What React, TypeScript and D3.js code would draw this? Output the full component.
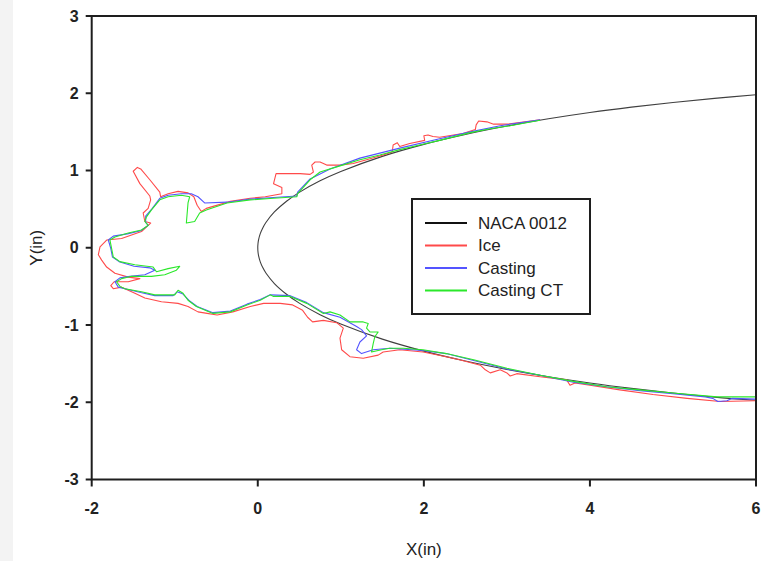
import React from "react";
import * as d3 from "d3";

// NACA 0012 outline (x in inches, upper / lower surface y)
const nacaX = [0, 0.003, 0.01, 0.03, 0.06, 0.1, 0.2, 0.35, 0.5, 0.75, 1, 1.5, 2, 2.5, 3, 3.5, 4, 4.5, 5, 5.5, 6];
const nacaUpperY = [0, 0.059, 0.106, 0.183, 0.257, 0.33, 0.463, 0.605, 0.717, 0.866, 0.987, 1.183, 1.338, 1.466, 1.575, 1.669, 1.75, 1.82, 1.881, 1.934, 1.98];
const nacaLowerY = [0, -0.059, -0.106, -0.183, -0.257, -0.33, -0.463, -0.605, -0.717, -0.866, -0.987, -1.183, -1.338, -1.466, -1.575, -1.669, -1.75, -1.82, -1.881, -1.934, -1.975];

// Ice tracing
const iceX = [3.4, 3.0, 2.84, 2.76, 2.66, 2.63, 2.62, 2.47, 2.19, 2.11, 2.05, 2.0, 2.01, 1.83, 1.71, 1.68, 1.63, 1.62, 1.51, 1.31, 1.15, 0.99, 0.83, 0.75, 0.69, 0.65, 0.67, 0.63, 0.51, 0.39, 0.22, 0.19, 0.29, 0.29, 0.09, -0.09, -0.33, -0.62, -0.68, -0.73, -0.77, -0.84, -0.96, -1.08, -1.17, -1.18, -1.3, -1.41, -1.45, -1.5, -1.42, -1.3, -1.29, -1.32, -1.38, -1.36, -1.29, -1.4, -1.64, -1.82, -1.9, -1.92, -1.88, -1.82, -1.72, -1.56, -1.42, -1.56, -1.73, -1.77, -1.74, -1.64, -1.48, -1.36, -1.16, -0.96, -0.84, -0.72, -0.61, -0.49, -0.3, -0.09, 0.07, 0.27, 0.42, 0.54, 0.6, 0.66, 0.79, 0.95, 1.03, 0.99, 1.01, 1.11, 1.27, 1.45, 1.51, 1.71, 1.99, 2.27, 2.43, 2.68, 2.74, 2.8, 2.92, 3.0, 3.04, 3.12, 3.4, 3.72, 3.76, 3.82, 4.0, 4.36, 4.76, 5.17, 5.57, 5.99];
const iceY = [1.655, 1.6, 1.6, 1.63, 1.64, 1.59, 1.53, 1.48, 1.43, 1.44, 1.46, 1.45, 1.39, 1.35, 1.31, 1.36, 1.33, 1.24, 1.2, 1.14, 1.09, 1.07, 1.07, 1.11, 1.11, 1.07, 0.98, 0.95, 0.96, 0.96, 0.96, 0.83, 0.78, 0.7, 0.66, 0.64, 0.6, 0.51, 0.47, 0.55, 0.66, 0.71, 0.73, 0.7, 0.66, 0.72, 0.88, 1.02, 1.04, 0.99, 0.83, 0.67, 0.62, 0.51, 0.45, 0.34, 0.32, 0.21, 0.12, 0.1, 0.01, -0.09, -0.16, -0.25, -0.33, -0.38, -0.4, -0.44, -0.44, -0.49, -0.53, -0.51, -0.59, -0.65, -0.7, -0.72, -0.76, -0.83, -0.85, -0.87, -0.83, -0.76, -0.72, -0.72, -0.74, -0.81, -0.9, -0.96, -0.94, -0.97, -1.04, -1.17, -1.32, -1.41, -1.43, -1.39, -1.35, -1.32, -1.35, -1.41, -1.45, -1.52, -1.58, -1.62, -1.58, -1.62, -1.66, -1.63, -1.67, -1.71, -1.78, -1.75, -1.78, -1.84, -1.9, -1.95, -1.99, -1.98];

// Casting tracing
const castingX = [3.4, 2.92, 2.56, 2.19, 1.71, 1.23, 0.87, 0.63, 0.48, 0.47, 0.19, -0.09, -0.37, -0.64, -0.72, -0.8, -0.92, -1.08, -1.18, -1.27, -1.35, -1.35, -1.32, -1.41, -1.57, -1.74, -1.8, -1.77, -1.75, -1.67, -1.49, -1.3, -1.24, -1.36, -1.54, -1.66, -1.72, -1.68, -1.6, -1.41, -1.24, -1.02, -0.97, -0.9, -0.82, -0.73, -0.54, -0.33, -0.13, 0.03, 0.15, 0.39, 0.59, 0.79, 0.99, 1.19, 1.25, 1.31, 1.23, 1.19, 1.25, 1.39, 1.59, 1.99, 2.27, 2.6, 3.0, 3.4, 3.8, 4.2, 4.6, 5.0, 5.39, 5.48, 5.54, 5.65, 5.71, 5.99];
const castingY = [1.655, 1.58, 1.5, 1.41, 1.29, 1.16, 1.02, 0.89, 0.72, 0.67, 0.65, 0.63, 0.59, 0.58, 0.66, 0.7, 0.7, 0.68, 0.64, 0.51, 0.41, 0.33, 0.29, 0.22, 0.18, 0.15, 0.1, -0.01, -0.12, -0.18, -0.24, -0.26, -0.29, -0.35, -0.37, -0.39, -0.44, -0.51, -0.53, -0.58, -0.62, -0.62, -0.57, -0.6, -0.69, -0.76, -0.84, -0.82, -0.73, -0.67, -0.61, -0.62, -0.71, -0.84, -0.9, -1.02, -1.06, -1.14, -1.22, -1.32, -1.37, -1.32, -1.3, -1.33, -1.37, -1.46, -1.57, -1.65, -1.74, -1.8, -1.85, -1.89, -1.93, -1.95, -1.99, -1.98, -1.95, -1.96];

// Casting CT tracing
const castingCtX = [3.4, 3.04, 2.8, 2.56, 2.19, 1.95, 1.71, 1.47, 1.23, 0.99, 0.75, 0.63, 0.48, 0.47, 0.19, -0.09, -0.37, -0.62, -0.7, -0.76, -0.86, -0.84, -0.82, -0.92, -1.08, -1.18, -1.28, -1.34, -1.36, -1.32, -1.4, -1.56, -1.72, -1.78, -1.76, -1.74, -1.66, -1.48, -1.26, -1.22, -1.08, -0.94, -0.98, -1.12, -1.28, -1.52, -1.64, -1.7, -1.66, -1.6, -1.4, -1.24, -1.0, -0.96, -0.9, -0.84, -0.74, -0.54, -0.33, -0.13, 0.03, 0.15, 0.19, 0.39, 0.59, 0.79, 0.87, 0.99, 1.11, 1.27, 1.33, 1.31, 1.35, 1.45, 1.41, 1.39, 1.37, 1.49, 1.59, 1.75, 1.99, 2.27, 2.6, 3.0, 3.4, 3.8, 4.2, 4.6, 5.0, 5.53, 5.99];
const castingCtY = [1.65, 1.58, 1.54, 1.49, 1.39, 1.33, 1.27, 1.2, 1.14, 1.06, 0.98, 0.88, 0.7, 0.66, 0.64, 0.62, 0.58, 0.49, 0.45, 0.34, 0.32, 0.58, 0.66, 0.68, 0.66, 0.62, 0.49, 0.4, 0.34, 0.29, 0.23, 0.19, 0.14, 0.1, -0.01, -0.12, -0.18, -0.22, -0.25, -0.31, -0.27, -0.24, -0.29, -0.35, -0.37, -0.37, -0.4, -0.44, -0.5, -0.53, -0.57, -0.61, -0.61, -0.55, -0.59, -0.68, -0.76, -0.85, -0.83, -0.74, -0.68, -0.61, -0.63, -0.63, -0.72, -0.85, -0.83, -0.87, -0.96, -0.96, -0.98, -1.04, -1.09, -1.09, -1.15, -1.24, -1.35, -1.32, -1.3, -1.3, -1.32, -1.37, -1.45, -1.56, -1.65, -1.73, -1.8, -1.84, -1.88, -1.93, -1.93];

const xTicks = [-2, 0, 2, 4, 6];
const yTicks = [-3, -2, -1, 0, 1, 2, 3];
const legendLabels = ["NACA 0012", "Ice", "Casting", "Casting CT"];
const seriesColors = ["#404040", "#ff4a4a", "#5454ff", "#2be82b"];

const W = 761;
const H = 561;
const L = 91.7, R = 756, T = 16, B = 479.5;

export default function App() {
  const x = d3.scaleLinear().domain([-2, 6]).range([L, R]);
  const y = d3.scaleLinear().domain([-3, 3]).range([B, T]);

  const zip = (xs: number[], ys: number[]) => xs.map((v, i) => [v, ys[i]] as [number, number]);

  const nacaPts: [number, number][] = [
    ...zip(nacaX, nacaUpperY).reverse(),
    ...zip(nacaX, nacaLowerY).slice(1),
  ];
  const smooth = d3.line<[number, number]>().x((d) => x(d[0])).y((d) => y(d[1])).curve(d3.curveCatmullRom);
  const jag = d3.line<[number, number]>().x((d) => x(d[0])).y((d) => y(d[1]));

  const traces = [
    zip(iceX, iceY),
    zip(castingX, castingY),
    zip(castingCtX, castingCtY),
  ];

  const font = "'Liberation Sans', Arial, sans-serif";
  const legY0 = 223;
  const legDy = 22.5;

  return (
    <svg width={W} height={H} style={{ position: "absolute", left: 0, top: 0 }} fontFamily={font}>
      <rect x={0} y={0} width={W} height={H} fill="#ffffff" />
      <rect x={0} y={0} width={13} height={H} fill="#f3f3f3" />
      <defs>
        <clipPath id="plotClip">
          <rect x={L} y={T} width={R - L} height={B - T} />
        </clipPath>
      </defs>
      <g clipPath="url(#plotClip)" fill="none">
        <path d={smooth(nacaPts) || ""} stroke={seriesColors[0]} strokeWidth={1.1} />
        {traces.map((pts, i) => (
          <path key={i} d={jag(pts) || ""} stroke={seriesColors[i + 1]} strokeWidth={1.1} strokeLinejoin="round" />
        ))}
      </g>
      {/* frame */}
      <rect x={L} y={T} width={R - L} height={B - T} fill="none" stroke="#1e1e1e" strokeWidth={2} />
      {/* y ticks */}
      {yTicks.map((t) => (
        <g key={"y" + t}>
          <line x1={L - 6} x2={L} y1={y(t)} y2={y(t)} stroke="#1e1e1e" strokeWidth={2} />
          <text x={L - 13} y={y(t)} textAnchor="end" dominantBaseline="central" fontSize={16} fontWeight="bold" fill="#222">
            {t}
          </text>
        </g>
      ))}
      {/* x ticks */}
      {xTicks.map((t) => (
        <g key={"x" + t}>
          <line x1={x(t)} x2={x(t)} y1={B} y2={B + 7} stroke="#1e1e1e" strokeWidth={2} />
          <text x={x(t)} y={B + 34} textAnchor="middle" fontSize={16} fontWeight="bold" fill="#222">
            {t}
          </text>
        </g>
      ))}
      <text x={(L + R) / 2} y={555} textAnchor="middle" fontSize={17} fill="#222">X(in)</text>
      <text transform={`translate(42,${(T + B) / 2}) rotate(-90)`} textAnchor="middle" fontSize={17} fill="#222">Y(in)</text>
      {/* legend */}
      <rect x={412} y={199} width={178} height={115} fill="#ffffff" stroke="#1e1e1e" strokeWidth={2} />
      {legendLabels.map((lab, i) => (
        <g key={lab}>
          <line x1={425} x2={467} y1={legY0 + i * legDy} y2={legY0 + i * legDy} stroke={i === 0 ? "#111" : seriesColors[i]} strokeWidth={2} />
          <text x={478} y={legY0 + i * legDy} dominantBaseline="central" fontSize={17} fill="#222">
            {lab}
          </text>
        </g>
      ))}
    </svg>
  );
}
